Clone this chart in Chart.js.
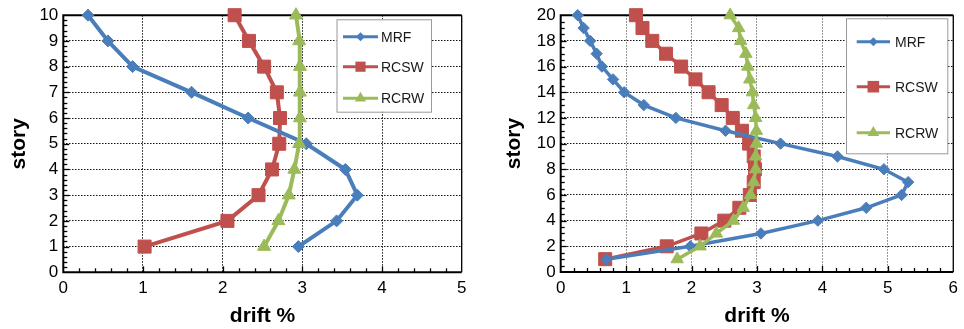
<!DOCTYPE html>
<html>
<head>
<meta charset="utf-8">
<script src="https://cdn.jsdelivr.net/npm/chart.js@4/dist/chart.umd.min.js"></script>
<style>
html, body { margin: 0; padding: 0; background: #fff; }
#wrap { position: relative; width: 964px; height: 329px; }
canvas { position: absolute; top: 0; }
</style>
</head>
<body>
<div id="wrap">
  <canvas id="chart10" width="482" height="329" style="left:0"></canvas>
  <canvas id="chart20" width="482" height="329" style="left:482px"></canvas>
</div>
<script>
// 10 story buildings (left)
const stories10 = [1, 2, 3, 4, 5, 6, 7, 8, 9, 10];
const mrf10  = [2.95, 3.43, 3.69, 3.54, 3.05, 2.32, 1.61, 0.87, 0.56, 0.31];
const rcsw10 = [1.02, 2.06, 2.45, 2.62, 2.71, 2.72, 2.68, 2.52, 2.33, 2.15];
const rcrw10 = [2.52, 2.70, 2.83, 2.90, 2.96, 2.97, 2.97, 2.97, 2.96, 2.92];

// 20 story buildings (right)
const stories20 = [1, 2, 3, 4, 5, 6, 7, 8, 9, 10, 11, 12, 13, 14, 15, 16, 17, 18, 19, 20];
const mrf20  = [0.70, 1.98, 3.06, 3.93, 4.67, 5.21, 5.31, 4.94, 4.23, 3.36, 2.52, 1.76, 1.27, 0.97, 0.80, 0.63, 0.55, 0.45, 0.35, 0.26];
const rcsw20 = [0.68, 1.62, 2.15, 2.50, 2.73, 2.89, 2.95, 2.97, 2.95, 2.88, 2.77, 2.63, 2.46, 2.26, 2.06, 1.84, 1.61, 1.40, 1.25, 1.15];
const rcrw20 = [1.78, 2.13, 2.38, 2.64, 2.79, 2.90, 2.95, 2.98, 2.98, 2.99, 2.99, 2.98, 2.95, 2.93, 2.89, 2.86, 2.83, 2.75, 2.72, 2.59];

const seriesNames = ['MRF', 'RCSW', 'RCRW'];
const xTitle = 'drift %';
const yTitle = 'story';

//styles for each series
const seriesColors = ['#4a7ebb', '#c0504d', '#9bbb59'];
const seriesShapes = ['rectRot', 'rect', 'triangle'];
const seriesOrder = [1, 2, 0]; //green on top, red at the bottom

Chart.defaults.font.family = "'Liberation Sans', Arial, sans-serif";
Chart.defaults.color = '#000';

// draw a marker for the legend
function drawMarker(ctx, shape, x, y, r) {
  ctx.beginPath();
  if (shape === 'rectRot') {
    ctx.moveTo(x - r, y); ctx.lineTo(x, y - r); ctx.lineTo(x + r, y); ctx.lineTo(x, y + r);
  } else if (shape === 'rect') {
    const s = r * Math.SQRT1_2;
    ctx.rect(x - s, y - s, 2 * s, 2 * s);
  } else {
    ctx.moveTo(x, y - r);
    ctx.lineTo(x + r * Math.sin(Math.PI * 2 / 3), y - r * Math.cos(Math.PI * 2 / 3));
    ctx.lineTo(x + r * Math.sin(Math.PI * 4 / 3), y - r * Math.cos(Math.PI * 4 / 3));
  }
  ctx.closePath();
  ctx.fill();
}

// frame with inward minor/major ticks
const framePlugin = {
  id: 'frame',
  beforeDatasetsDraw(chart, args, opts) {
    const { ctx, chartArea: a, scales: { x, y } } = chart;
    ctx.save();
    ctx.strokeStyle = '#000';
    ctx.lineWidth = 1.3;
    const nx = Math.round((x.max - x.min) / opts.xMinor);
    const kx = Math.round(opts.xMajor / opts.xMinor);
    for (let i = 1; i < nx; i++) {
      const px = Math.round(x.getPixelForValue(x.min + i * opts.xMinor)) + 0.5;
      const len = i % kx === 0 ? 6 : 4;
      ctx.beginPath(); ctx.moveTo(px, a.bottom); ctx.lineTo(px, a.bottom - len); ctx.stroke();
    }
    const ny = Math.round((y.max - y.min) / opts.yMinor);
    const ky = Math.round(opts.yMajor / opts.yMinor);
    for (let i = 1; i < ny; i++) {
      const py = Math.round(y.getPixelForValue(y.min + i * opts.yMinor)) + 0.5;
      const len = i % ky === 0 ? 6 : 4;
      ctx.beginPath(); ctx.moveTo(a.left, py); ctx.lineTo(a.left + len, py); ctx.stroke();
    }
    ctx.lineWidth = 2;
    ctx.beginPath();
    ctx.moveTo(a.right, a.top); ctx.lineTo(a.left, a.top); ctx.lineTo(a.left, a.bottom); ctx.lineTo(a.right, a.bottom);
    ctx.stroke();
    ctx.lineWidth = 1.3;
    ctx.beginPath(); ctx.moveTo(a.right, a.top); ctx.lineTo(a.right, a.bottom); ctx.stroke();
    ctx.restore();
  },
  afterDraw(chart, args, opts) {
    const lg = opts.legend;
    if (!lg) return;
    const { ctx } = chart;
    ctx.save();
    ctx.fillStyle = '#fff';
    ctx.fillRect(lg.left, lg.top, lg.width, lg.height);
    ctx.strokeStyle = '#9a9a9a';
    ctx.lineWidth = 1;
    ctx.strokeRect(lg.left + 0.5, lg.top + 0.5, lg.width, lg.height);
    ctx.font = "14px 'Liberation Sans', Arial, sans-serif";
    ctx.textBaseline = 'middle';
    seriesNames.forEach((name, i) => {
      const yy = lg.rows[i];
      ctx.strokeStyle = seriesColors[i];
      ctx.fillStyle = seriesColors[i];
      ctx.lineWidth = 3;
      ctx.beginPath(); ctx.moveTo(lg.lineX0, yy); ctx.lineTo(lg.lineX1, yy); ctx.stroke();
      drawMarker(ctx, seriesShapes[i], (lg.lineX0 + lg.lineX1) / 2, yy, lg.radius[i]);
      ctx.fillStyle = '#1a1a1a';
      ctx.fillText(name, lg.textX, yy + 1);
    });
    ctx.restore();
  }
};

function makeChart(id, stories, values, cfg) {
  const datasets = values.map((vals, i) => ({
    label: seriesNames[i],
    data: stories.map((s, j) => ({ x: vals[j], y: s })),
    showLine: true,
    borderColor: seriesColors[i],
    backgroundColor: seriesColors[i],
    borderWidth: cfg.lineWidth,
    pointStyle: seriesShapes[i],
    pointRadius: cfg.radius[i],
    pointBorderWidth: 1,
    pointBorderColor: seriesColors[i],
    order: seriesOrder[i],
    clip: false
  }));
  const tickFont = { size: 17 };
  return new Chart(document.getElementById(id), {
    type: 'scatter',
    data: { datasets: datasets },
    options: {
      responsive: false,
      animation: false,
      devicePixelRatio: 1,
      layout: { padding: { top: 15, right: cfg.padRight, left: 0, bottom: 0 } },
      plugins: {
        legend: { display: false },
        tooltip: { enabled: false },
        frame: cfg.frame
      },
      scales: {
        x: {
          type: 'linear',
          min: 0,
          max: cfg.xMax,
          ticks: { stepSize: 1, font: tickFont, color: '#000', padding: 6, maxRotation: 0 },
          grid: { color: cfg.xGrid, lineWidth: 1, drawTicks: false },
          border: { display: false, dash: [1.5, 1.5] },
          title: { display: true, text: xTitle, color: '#000', font: { size: 21, weight: 'bold', lineHeight: 1 }, padding: { top: 0, bottom: 2.5 } },
          afterFit: s => { s.height = cfg.xHeight; }
        },
        y: {
          type: 'linear',
          min: 0,
          max: cfg.yMax,
          ticks: { stepSize: cfg.yStep, font: tickFont, color: '#000', padding: 5 },
          grid: { color: '#111', lineWidth: 1, drawTicks: false },
          border: { display: false, dash: [1.5, 1.5] },
          title: { display: true, text: yTitle, color: '#000', font: { size: 21, weight: 'bold', lineHeight: 1 }, padding: { top: cfg.yTitlePad, bottom: 0 } },
          afterFit: s => { s.width = cfg.yWidth; }
        }
      }
    },
    plugins: [framePlugin]
  });
}

makeChart('chart10', stories10, [mrf10, rcsw10, rcrw10], {
  xMax: 5, yMax: 10, yStep: 1,
  lineWidth: 4, radius: [6, 9.2, 7.5],
  padRight: 20.3, xHeight: 56.7, yWidth: 63.3, yTitlePad: 8.5,
  xGrid: '#111',
  frame: {
    xMinor: 0.2, xMajor: 1, yMinor: 0.2, yMajor: 1,
    legend: { left: 336.5, top: 19.3, width: 94.5, height: 92.4, lineX0: 343, lineX1: 378, textX: 381, rows: [36.7, 66.7, 98.3], radius: [4.5, 7.2, 6.5] }
  }
});

makeChart('chart20', stories20, [mrf20, rcsw20, rcrw20], {
  xMax: 6, yMax: 20, yStep: 2,
  lineWidth: 3.5, radius: [5.7, 9.2, 7.2],
  padRight: 5, xHeight: 57, yWidth: 78.7, yTitlePad: 21.5,
  xGrid: '#777',
  frame: {
    xMinor: 0.2, xMajor: 1, yMinor: 0.5, yMajor: 2,
    legend: { left: 364, top: 18.3, width: 101.3, height: 135, lineX0: 374.7, lineX1: 408, textX: 413, rows: [41.7, 86.7, 132.7], radius: [4.5, 8.2, 6.8] }
  }
});
</script>
</body>
</html>
